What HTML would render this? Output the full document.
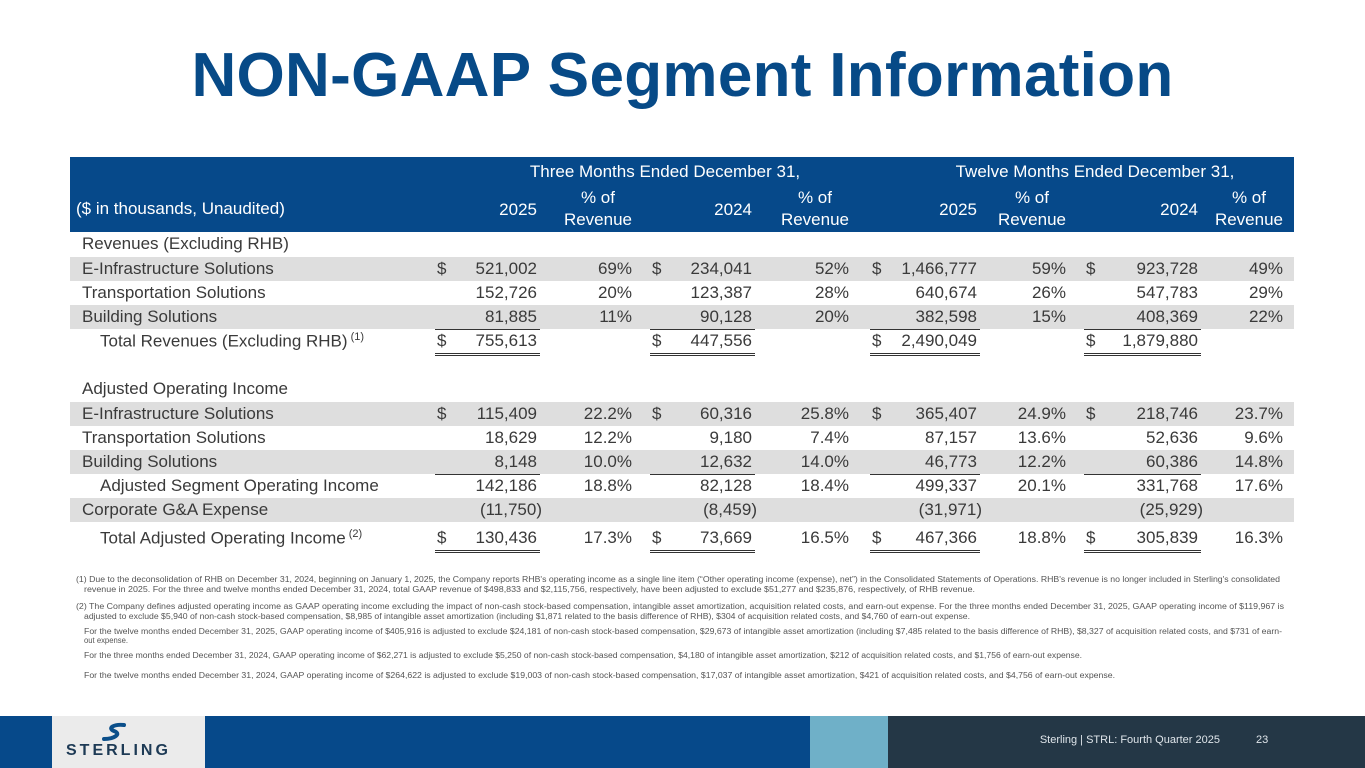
<!DOCTYPE html>
<html><head><meta charset="utf-8">
<style>
body{margin:0;width:1365px;height:768px;position:relative;overflow:hidden;background:#fff;font-family:"Liberation Sans",sans-serif;color:#333}
.a{position:absolute;white-space:nowrap}
#title{left:0;width:1365px;text-align:center;top:40px;font-size:62px;font-weight:bold;color:#074a87;letter-spacing:0.3px}
.hdr{background:#06498a;}
.ht{color:#fff;font-size:17px}
.c{font-size:17px;color:#3a3a3a}
.band{background:#dedede;position:absolute;left:70px;width:1224px;height:24px}
.ul{position:absolute;border-top:1px solid #333}
.dl{position:absolute;border-top:3px double #333;height:0}
.fn{font-size:8px;color:#555;transform-origin:left top}
</style></head><body>
<div class="a" id="title">NON-GAAP Segment Information</div>
<div class="a hdr" style="left:70px;top:157px;width:1224px;height:75px"></div>
<div id="tbl"></div>
<div id="notes"></div>
<div class="a" style="left:0;top:716px;width:52px;height:52px;background:#06498a"></div>
<div class="a" style="left:52px;top:716px;width:153px;height:52px;background:#ebebeb">
 <svg width="153" height="52" style="position:absolute;left:0;top:0"><path d="M72 9 C62 8,55 12,62 15 C70 18,62 23,52 23" stroke="#0b4f8a" stroke-width="4" fill="none" stroke-linecap="round"/></svg>
 <div class="a" style="left:14px;top:26px;font-size:16px;font-weight:bold;color:#1d3a55;letter-spacing:3px">STERLING</div>
</div>
<div class="a" style="left:205px;top:716px;width:605px;height:52px;background:#06498a"></div>
<div class="a" style="left:810px;top:716px;width:78px;height:52px;background:#6fb0c8"></div>
<div class="a" style="left:888px;top:716px;width:477px;height:52px;background:#243746"></div>
<div class="a" style="right:145px;top:734px;font-size:11px;color:#dfe5ea">Sterling | STRL:  Fourth Quarter  2025</div>
<div class="a" style="left:1256px;top:734px;font-size:11px;color:#dfe5ea">23</div>
<script>
const colRight=[537,632,752,849,977,1066,1198,1283];
const dollarX=[437,null,652,null,872,null,1086,null];
const rowLabels=["Revenues (Excluding RHB)","E-Infrastructure Solutions","Transportation Solutions","Building Solutions","Total Revenues (Excluding RHB)","","Adjusted Operating Income","E-Infrastructure Solutions","Transportation Solutions","Building Solutions","Adjusted Segment Operating Income","Corporate G&A Expense","Total Adjusted Operating Income"];
const rowValues=[
 null,
 ["521,002","69%","234,041","52%","1,466,777","59%","923,728","49%"],
 ["152,726","20%","123,387","28%","640,674","26%","547,783","29%"],
 ["81,885","11%","90,128","20%","382,598","15%","408,369","22%"],
 ["755,613","","447,556","","2,490,049","","1,879,880",""],
 null,null,
 ["115,409","22.2%","60,316","25.8%","365,407","24.9%","218,746","23.7%"],
 ["18,629","12.2%","9,180","7.4%","87,157","13.6%","52,636","9.6%"],
 ["8,148","10.0%","12,632","14.0%","46,773","12.2%","60,386","14.8%"],
 ["142,186","18.8%","82,128","18.4%","499,337","20.1%","331,768","17.6%"],
 ["(11,750)","","(8,459)","","(31,971)","","(25,929)",""],
 ["130,436","17.3%","73,669","16.5%","467,366","18.8%","305,839","16.3%"]
];
const rowTops=[232,257,281,305,329,353,377,402,426,450,474,498,526];
const shaded=[1,3,7,9,11];
const dollarRows=[1,4,7,12];
const indented=[4,10,12];
const sups={4:"(1)",12:"(2)"};
const singleUL=[3,9];const doubleUL=[4,12];
const T=document.getElementById('tbl');
function mk(cls,style,txt){const d=document.createElement('div');d.className=cls;d.style.cssText=style;if(txt!=null)d.textContent=txt;T.appendChild(d);return d;}
let h;
h=mk('a ht','left:500px;top:162px;width:330px;text-align:center','Three Months Ended December 31,');
h=mk('a ht','left:920px;top:162px;width:350px;text-align:center','Twelve Months Ended December 31,');
h=mk('a ht','left:76px;top:199px','($ in thousands, Unaudited)');
const hcols=["2025","% of|Revenue","2024","% of|Revenue","2025","% of|Revenue","2024","% of|Revenue"];
hcols.forEach((t,i)=>{const p=t.split('|');const d=mk('a ht',`right:${1365-colRight[i]}px;top:${p.length>1?187:199}px;text-align:center;line-height:22px`);d.innerHTML=p.join('<br>');});
rowLabels.forEach((lab,r)=>{
 const top=rowTops[r];
 if(shaded.includes(r)){const b=mk('band',`top:${top}px`);}
 if(lab){const d=mk('a c',`left:${indented.includes(r)?100:82}px;top:${top+2}px`,lab);if(sups[r]){const s=document.createElement('sup');s.textContent=' '+sups[r];s.style.fontSize='11px';d.appendChild(s);}}
 const v=rowValues[r];if(!v)return;
 v.forEach((t,i)=>{if(!t)return;const d=mk('a c',`right:${1365-colRight[i]-(t.startsWith('(')?5:0)}px;top:${top+2}px`,t);
  if(dollarRows.includes(r)&&dollarX[i]!=null){const s=mk('a c',`left:${dollarX[i]}px;top:${top+2}px`,'$');}
  if(i%2==0&&(singleUL.includes(r)||doubleUL.includes(r))){const l=mk(singleUL.includes(r)?'ul':'dl',`left:${dollarX[i]-2}px;width:${colRight[i]-dollarX[i]+5}px;top:${top+24}px`);}
 });
});
const notes=[
 [580,"(1) Due to the deconsolidation of RHB on December 31, 2024, beginning on January 1, 2025, the Company reports RHB's operating income as a single line item (\u201cOther operating income (expense), net\u201d) in the Consolidated Statements of Operations. RHB's revenue is no longer included in Sterling's consolidated",76,1280],
 [590,"revenue in 2025. For the three and twelve months ended December 31, 2024, total GAAP revenue of $498,833 and $2,115,756, respectively, have been adjusted to exclude $51,277 and $235,876, respectively, of RHB revenue.",84,975],
 [607,"(2) The Company defines adjusted operating income as GAAP operating income excluding the impact of non-cash stock-based compensation, intangible asset amortization, acquisition related costs, and earn-out expense. For the three months ended December 31, 2025, GAAP operating income of $119,967 is",76,1284],
 [617,"adjusted to exclude $5,940 of non-cash stock-based compensation, $8,985 of intangible asset amortization (including $1,871 related to the basis difference of RHB), $304 of acquisition related costs, and $4,760 of earn-out expense.",84,970],
 [632,"For the twelve months ended December 31, 2025, GAAP operating income of $405,916 is adjusted to exclude $24,181 of non-cash stock-based compensation, $29,673 of intangible asset amortization (including $7,485 related to the basis difference of RHB), $8,327 of acquisition related costs, and $731 of earn-",84,1282],
 [641,"out expense.",84,128],
 [656,"For the three months ended December 31, 2024, GAAP operating income of $62,271 is adjusted to exclude $5,250 of non-cash stock-based compensation, $4,180 of intangible asset amortization, $212 of acquisition related costs, and $1,756 of earn-out expense.",84,1082],
 [676,"For the twelve months ended December 31, 2024, GAAP operating income of $264,622 is adjusted to exclude $19,003 of non-cash stock-based compensation, $17,037 of intangible asset amortization, $421 of acquisition related costs, and $4,756 of earn-out expense.",84,1115]
];
const N=document.getElementById('notes');
notes.forEach(n=>{const d=document.createElement('div');d.className='a fn';d.style.left=n[2]+'px';d.style.top=(n[0]-5)+'px';d.textContent=n[1];N.appendChild(d);
 
 
 const w=d.getBoundingClientRect().width;d.style.transform=`scaleX(${(n[3]-n[2])/w})`;});
</script>
</body></html>
